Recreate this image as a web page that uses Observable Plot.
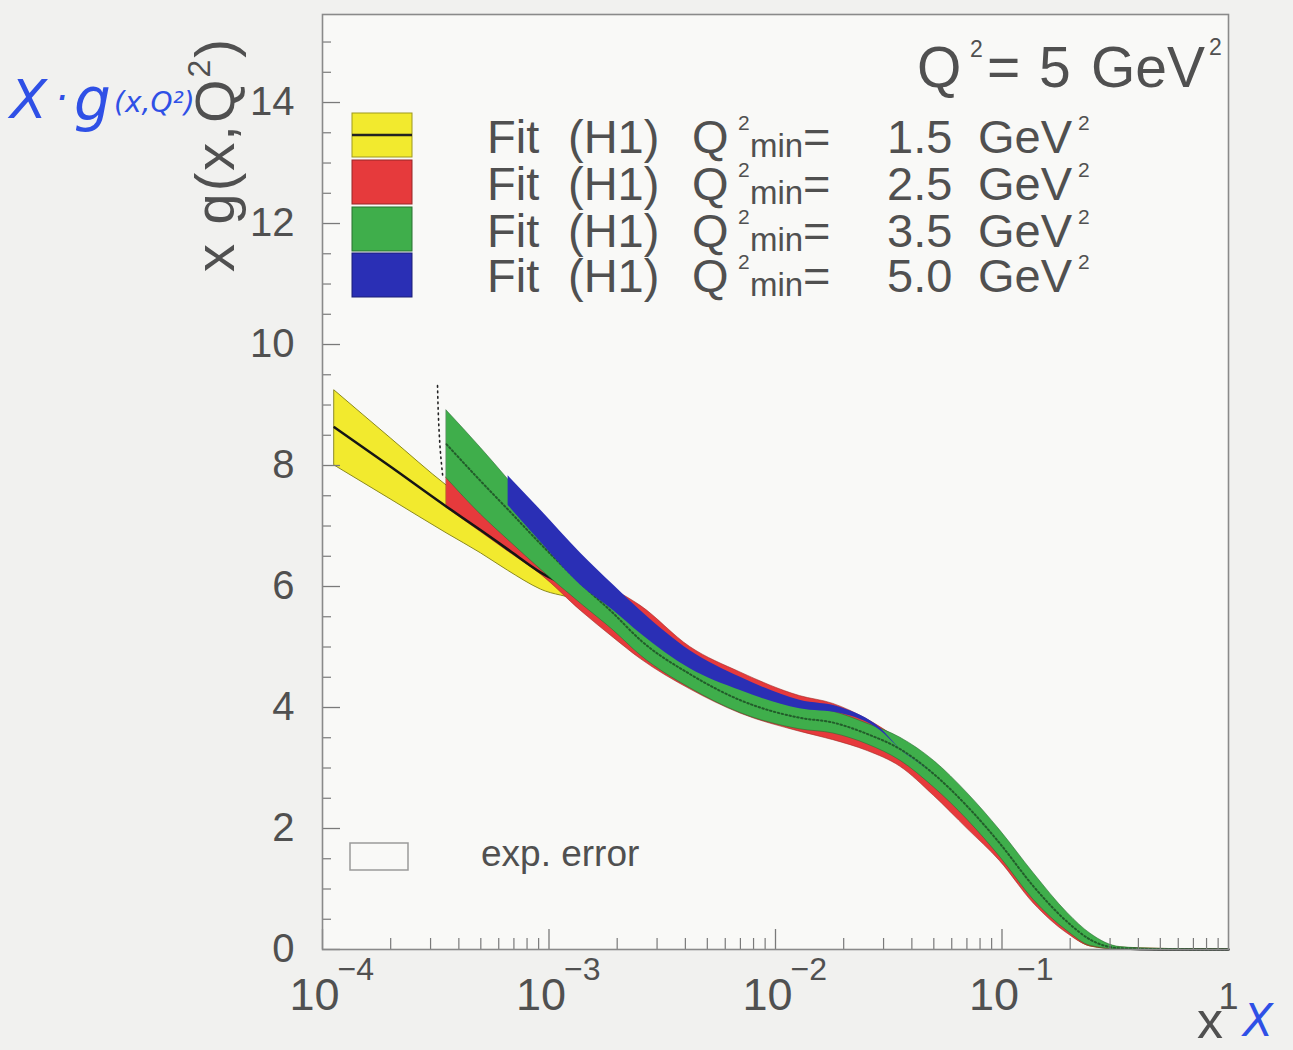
<!DOCTYPE html>
<html>
<head>
<meta charset="utf-8">
<script src="https://cdn.jsdelivr.net/npm/d3@7"></script>
<script src="https://cdn.jsdelivr.net/npm/@observablehq/plot@0.6"></script>
<style>
  html, body { margin: 0; padding: 0; background: #f1f1ef; }
  #chart { position: relative; width: 1293px; height: 1050px; }
  svg { font-family: "Liberation Sans", Arial, sans-serif; }
</style>
</head>
<body>
<div id="chart"></div>
<script>
// ---------------- data ----------------
const fitQ2min = ["1.5", "2.5", "3.5", "5.0"];
const fitColors = ["#f2ea2e", "#e63a3c", "#3fae4b", "#2a2fb5"];

// Fit Q2min = 1.5 GeV^2 (yellow)
const yellowX  = [1.13e-4, 2.0e-4, 3.53e-4, 5.0e-4, 6.6e-4, 9.2e-4, 1.38e-3, 1.93e-3, 2.54e-3, 4.2e-3, 7.0e-3, 1.28e-2, 1.8e-2, 2.55e-2, 3.56e-2, 5.0e-2, 7.05e-2, 9.8e-2, 0.138, 0.195, 0.246, 0.333, 0.5, 1];
const yellowLo = [8.00, 7.44, 6.88, 6.55, 6.26, 5.95, 5.74, 5.35, 5.00, 4.45, 4.00, 3.70, 3.62, 3.42, 3.10, 2.56, 2.02, 1.50, 0.80, 0.28, 0.05, 0.00, 0.00, 0];
const yellowMid= [8.63, 7.98, 7.32, 6.93, 6.61, 6.23, 5.90, 5.50, 5.12, 4.55, 4.12, 3.82, 3.74, 3.56, 3.28, 2.84, 2.28, 1.70, 1.00, 0.43, 0.15, 0.02, 0.00, 0];
const yellowHi = [9.24, 8.45, 7.67, 7.25, 6.95, 6.55, 6.05, 5.65, 5.25, 4.65, 4.30, 3.95, 3.86, 3.70, 3.45, 3.05, 2.50, 1.92, 1.20, 0.57, 0.24, 0.03, 0.01, 0];

// Fit Q2min = 2.5 GeV^2 (red)
const redX  = [3.53e-4, 5.0e-4, 6.6e-4, 9.2e-4, 1.38e-3, 1.93e-3, 2.54e-3, 4.2e-3, 7.0e-3, 1.28e-2, 1.8e-2, 2.55e-2, 3.56e-2, 5.0e-2, 7.05e-2, 9.8e-2, 0.138, 0.195, 0.246, 0.333, 0.5, 1];
const redLo = [7.30, 6.90, 6.58, 6.20, 5.60, 5.15, 4.80, 4.30, 3.90, 3.60, 3.46, 3.28, 3.02, 2.54, 1.99, 1.46, 0.76, 0.26, 0.05, 0.00, 0.00, 0];
const redHi = [7.80, 7.40, 7.05, 6.65, 6.25, 5.95, 5.68, 5.00, 4.58, 4.19, 4.06, 3.80, 3.45, 3.00, 2.45, 1.85, 1.15, 0.52, 0.20, 0.03, 0.01, 0];

// Fit Q2min = 3.5 GeV^2 (green)
const greenX  = [3.53e-4, 5.0e-4, 6.6e-4, 9.2e-4, 1.38e-3, 1.93e-3, 2.54e-3, 4.2e-3, 7.0e-3, 1.28e-2, 1.8e-2, 2.55e-2, 3.56e-2, 5.0e-2, 7.05e-2, 9.8e-2, 0.138, 0.195, 0.246, 0.333, 0.5, 1];
const greenLo = [7.79, 7.19, 6.77, 6.28, 5.72, 5.27, 4.86, 4.32, 3.91, 3.64, 3.57, 3.39, 3.12, 2.68, 2.14, 1.53, 0.82, 0.30, 0.06, 0.00, 0.00, 0];
const greenHi = [8.91, 8.29, 7.77, 7.12, 6.38, 5.83, 5.36, 4.78, 4.33, 4.02, 3.93, 3.73, 3.50, 3.12, 2.58, 1.97, 1.26, 0.60, 0.26, 0.04, 0.01, 0];

// Fit Q2min = 5.0 GeV^2 (blue)
const blueX  = [6.6e-4, 9.2e-4, 1.38e-3, 1.93e-3, 2.54e-3, 4.2e-3, 7.0e-3, 1.28e-2, 1.94e-2, 2.9e-2, 3.56e-2, 5.0e-2, 9.8e-2, 0.195, 0.333, 1];
const blueLo = [7.34, 6.73, 6.02, 5.60, 5.22, 4.64, 4.28, 3.98, 3.90, 3.62, 3.31, 2.90, 1.75, 0.45, 0.02, 0];
const blueHi = [7.83, 7.26, 6.55, 6.02, 5.60, 4.94, 4.50, 4.12, 4.00, 3.66, 3.31, 2.90, 1.75, 0.45, 0.02, 0];

// short dotted stroke above the start of the red/green bands
const dottedX = [3.22e-4, 3.26e-4, 3.32e-4, 3.40e-4];
const dottedY = [9.32, 8.69, 8.20, 7.80];

// axes
const yMajorTicks = [0, 2, 4, 6, 8, 10, 12, 14];
const yMinorTicks = d3.range(0, 15.01, 0.5).filter(v => v % 2 !== 0);
const xDecades = [1e-4, 1e-3, 1e-2, 1e-1];
const xMinorTicks = xDecades.flatMap(d => [2, 3, 4, 5, 6, 7, 8, 9].map(k => k * d));
const yTop = 15.455;

// ---------------- build ----------------
const W = 1293, H = 1050, mL = 322, mR = 65, mT = 14, mB = 101;
const plotW = W - mL - mR, plotH = H - mT - mB;

const rows = (xs, lo, hi, mid) => xs.map((x, i) => ({x, lo: lo[i], hi: hi[i], mid: mid ? mid[i] : (lo[i] + hi[i]) / 2}));
const yellow = rows(yellowX, yellowLo, yellowHi, yellowMid);
const red = rows(redX, redLo, redHi);
const green = rows(greenX, greenLo, greenHi);
const blue = rows(blueX, blueLo, blueHi);
const dotted = dottedX.map((x, i) => ({x, y: dottedY[i]}));

const txt = "#505050";
const chart = Plot.plot({
  width: W, height: H,
  marginLeft: mL, marginRight: mR, marginTop: mT, marginBottom: mB,
  style: {background: "transparent", fontFamily: "Liberation Sans, Arial, sans-serif"},
  x: {type: "log", domain: [1e-4, 1]},
  y: {domain: [0, yTop]},
  marks: [
    Plot.frame({fill: "#f9f9f7"}),
    Plot.areaY(yellow, {x: "x", y1: "lo", y2: "hi", fill: fitColors[0], stroke: "#8c8a1e", strokeWidth: 1, curve: "monotone-x"}),
    Plot.areaY(red, {x: "x", y1: "lo", y2: "hi", fill: fitColors[1], stroke: "#9a2a22", strokeWidth: 0.8, strokeOpacity: 0.7, curve: "monotone-x"}),
    Plot.line(yellow, {x: "x", y: "mid", stroke: "#151515", strokeWidth: 2.5, curve: "monotone-x"}),
    Plot.line(dotted, {x: "x", y: "y", stroke: "#222", strokeWidth: 1.6, strokeDasharray: "1.5,4", curve: "monotone-y"}),
    Plot.areaY(green, {x: "x", y1: "lo", y2: "hi", fill: fitColors[2], stroke: "#2b6a33", strokeWidth: 0.8, strokeOpacity: 0.7, curve: "monotone-x"}),
    Plot.line(green, {x: "x", y: "mid", stroke: "#173a1c", strokeWidth: 2, strokeOpacity: 0.7, strokeDasharray: "1.5,2.5", curve: "monotone-x"}),
    Plot.areaY(blue, {x: "x", y1: "lo", y2: "hi", fill: fitColors[3], curve: "monotone-x"}),
    // inward ticks
    Plot.tickY(yMinorTicks, {y: d => d, insetRight: plotW - 9, stroke: "#7a7a7a", strokeWidth: 1.2}),
    Plot.tickY(yMajorTicks, {y: d => d, insetRight: plotW - 18, stroke: "#7a7a7a", strokeWidth: 1.3}),
    Plot.tickX(xMinorTicks, {x: d => d, insetTop: plotH - 11, stroke: "#7a7a7a", strokeWidth: 1.2}),
    Plot.tickX(xDecades, {x: d => d, insetTop: plotH - 20, stroke: "#7a7a7a", strokeWidth: 1.3}),
    Plot.frame({stroke: "#8a8a8a", strokeWidth: 1.6}),
    // axis labels
    Plot.axisY(yMajorTicks, {anchor: "left", tickSize: 0, tickPadding: 28, fontSize: 40, color: txt, label: null, tickFormat: d => String(d)}),
    Plot.axisX(xDecades, {anchor: "bottom", tickSize: 0, tickPadding: 29, fontSize: 45, dx: -8, color: txt, label: null, tickFormat: () => "10"}),
    Plot.axisX(xDecades, {anchor: "bottom", tickSize: 0, tickPadding: 8, fontSize: 32, dx: 15, textAnchor: "start", color: txt, label: null,
      tickFormat: d => "\u2212" + Math.round(-Math.log10(d))}),
    Plot.axisX([1], {anchor: "bottom", tickSize: 0, tickPadding: 34, fontSize: 36, color: txt, label: null, tickFormat: () => "1"})
  ]
});

document.getElementById("chart").appendChild(chart);
const svg = d3.select(chart);
const font = "Liberation Sans, Arial, sans-serif";

// ---------------- legend ----------------
const boxTops = [113, 160, 207, 253];
const baselines = [153, 200, 247, 292];
const leg = svg.append("g").attr("fill", txt).attr("font-family", font).attr("text-anchor", "start");
fitQ2min.forEach((val, i) => {
  leg.append("rect").attr("x", 352).attr("y", boxTops[i]).attr("width", 60).attr("height", 44)
    .attr("fill", fitColors[i]).attr("stroke", d3.color(fitColors[i]).darker(1.2)).attr("stroke-width", 1);
  if (i === 0) leg.append("line").attr("x1", 352).attr("x2", 412).attr("y1", boxTops[i] + 22).attr("y2", boxTops[i] + 22)
    .attr("stroke", "#222").attr("stroke-width", 2.5);
  const b = baselines[i];
  const t = (x, y, s, size) => leg.append("text").attr("x", x).attr("y", y).attr("font-size", size).text(s);
  t(487, b, "Fit", 47);
  t(568, b, "(H1)", 47);
  t(692, b, "Q", 47);
  t(738, b - 23, "2", 21);
  t(750, b + 4, "min", 33);
  t(803, b, "=", 47);
  t(887, b, val, 47);
  t(978, b, "GeV", 47);
  t(1078, b - 23, "2", 21);
});

// Q^2 = 5 GeV^2 header
const hd = svg.append("g").attr("fill", txt).attr("font-family", font).attr("text-anchor", "start");
hd.append("text").attr("x", 917).attr("y", 87).attr("font-size", 57).text("Q");
hd.append("text").attr("x", 970).attr("y", 57).attr("font-size", 23).text("2");
hd.append("text").attr("x", 987).attr("y", 87).attr("font-size", 57).text("=");
hd.append("text").attr("x", 1039).attr("y", 87).attr("font-size", 57).text("5");
hd.append("text").attr("x", 1091).attr("y", 87).attr("font-size", 57).text("GeV");
hd.append("text").attr("x", 1209).attr("y", 55).attr("font-size", 23).text("2");

// exp. error
svg.append("rect").attr("x", 350).attr("y", 843).attr("width", 58).attr("height", 27)
  .attr("fill", "none").attr("stroke", "#9a9a9a").attr("stroke-width", 1.5);
svg.append("text").attr("x", 481).attr("y", 866).attr("font-size", 37).attr("fill", txt)
  .attr("text-anchor", "start").attr("font-family", font).text("exp. error");

// y-axis title (rotated, reads bottom to top)
const yt = svg.append("text").attr("transform", "translate(234,272) rotate(-90)")
  .attr("text-anchor", "start").attr("font-family", font)
  .attr("font-size", 56).attr("letter-spacing", 2).attr("fill", txt);
yt.append("tspan").text("x g(x,Q");
yt.append("tspan").attr("font-size", 32).attr("dy", -24).text("2");
yt.append("tspan").attr("dy", 24).text(")");

// x-axis title
svg.append("text").attr("x", 1197).attr("y", 1038).attr("font-size", 52).attr("fill", txt)
  .attr("text-anchor", "start").attr("font-family", font).text("x");

// handwritten notes (blue)
const hw = svg.append("g").attr("fill", "#2f50e6").attr("font-family", "DejaVu Sans, sans-serif")
  .attr("font-style", "italic").attr("text-anchor", "start");
hw.append("text").attr("x", 10).attr("y", 118).attr("font-size", 54).text("X");
hw.append("text").attr("x", 55).attr("y", 112).attr("font-size", 40).text("·");
hw.append("text").attr("x", 74).attr("y", 120).attr("font-size", 58).text("g");
hw.append("text").attr("x", 114).attr("y", 112).attr("font-size", 28).text("(x,Q²)");
hw.append("text").attr("x", 1243).attr("y", 1036).attr("font-size", 44).text("X");
</script>
</body>
</html>
